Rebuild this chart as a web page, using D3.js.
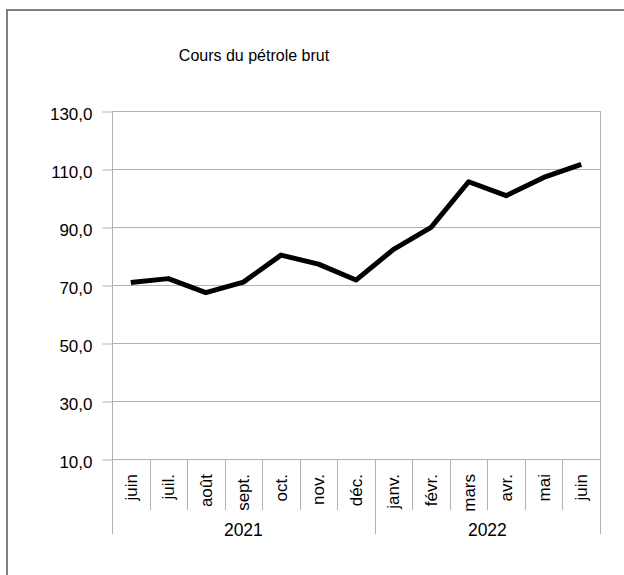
<!DOCTYPE html>
<html>
<head>
<meta charset="utf-8">
<script src="https://cdn.jsdelivr.net/npm/d3@7"></script>
<style>
  html, body { margin: 0; padding: 0; background: #fff; }
  svg { display: block; font-family: "Liberation Sans", Arial, sans-serif; }
</style>
</head>
<body>
<svg id="chart" width="624" height="575"></svg>
<script>
// ---- data ----
const title = "Cours du pétrole brut";
const months = ["juin", "juil.", "août", "sept.", "oct.", "nov.", "déc.",
                "janv.", "févr.", "mars", "avr.", "mai", "juin"];
const monthYears = ["2021", "2021", "2021", "2021", "2021", "2021", "2021",
                    "2022", "2022", "2022", "2022", "2022", "2022"];
const years = ["2021", "2022"];
const prices = [70.9, 72.2, 67.4, 71.0, 80.3, 77.2, 71.7, 82.3, 89.9, 105.6, 100.8, 107.1, 111.6];
const yTicks = [10, 30, 50, 70, 90, 110, 130];

(function () {
// ---- layout ----
const svg = d3.select("#chart");
const pLeft = 112, pRight = 600, pTop = 111, pBottom = 459;
const gridColor = "#b3b3b3";

const frLocale = d3.formatLocale({ decimal: ",", thousands: " ", grouping: [3], currency: ["", " €"] });
const fmt = frLocale.format(".1f");

const x = d3.scaleBand().domain(d3.range(months.length)).range([pLeft, pRight]).padding(0);
const y = d3.scaleLinear().domain([10, 130]).range([pBottom, pTop]);

// outer frame
svg.append("rect")
  .attr("x", 7).attr("y", 10).attr("width", 800).attr("height", 800)
  .attr("fill", "none").attr("stroke", "#7f7f7f").attr("stroke-width", 2);

// title
svg.append("text")
  .attr("x", 254).attr("y", 61)
  .attr("text-anchor", "middle")
  .attr("font-size", 16)
  .attr("fill", "#000")
  .text(title);

// horizontal grid lines
svg.append("g").selectAll("line").data(yTicks).join("line")
  .attr("x1", pLeft).attr("x2", pRight)
  .attr("y1", d => Math.round(y(d)) + 0.5).attr("y2", d => Math.round(y(d)) + 0.5)
  .attr("stroke", gridColor).attr("stroke-width", 1);

// y axis (ticks + labels)
const yAxis = d3.axisLeft(y).tickValues(yTicks).tickSize(10).tickPadding(10).tickFormat(fmt);
const gy = svg.append("g").attr("transform", `translate(${pLeft + 0.5},0.5)`).call(yAxis);
gy.select(".domain").remove();
gy.selectAll(".tick line").attr("stroke", gridColor);
gy.selectAll(".tick text")
  .attr("font-size", 17).attr("font-family", "Liberation Sans, Arial, sans-serif")
  .attr("fill", "#000").attr("dy", "0.45em");

// vertical plot borders (extend down into category table)
const yearBottom = 534, monthBottom = 510;
svg.append("line").attr("x1", pLeft + 0.5).attr("x2", pLeft + 0.5).attr("y1", pTop).attr("y2", yearBottom)
  .attr("stroke", gridColor);
svg.append("line").attr("x1", pRight + 0.5).attr("x2", pRight + 0.5).attr("y1", pTop).attr("y2", yearBottom)
  .attr("stroke", gridColor);

// month separators
const bounds = d3.range(1, months.length).map(i => x(i));
svg.append("g").selectAll("line").data(bounds).join("line")
  .attr("x1", d => Math.round(d) + 0.5).attr("x2", d => Math.round(d) + 0.5)
  .attr("y1", pBottom).attr("y2", monthBottom)
  .attr("stroke", gridColor);

// year separators
const yearSpans = years.map(yr => {
  const idx = monthYears.map((m, i) => m === yr ? i : -1).filter(i => i >= 0);
  return { year: yr, x0: x(d3.min(idx)), x1: x(d3.max(idx)) + x.bandwidth() };
});
svg.append("g").selectAll("line").data(yearSpans.slice(1)).join("line")
  .attr("x1", d => Math.round(d.x0) + 0.5).attr("x2", d => Math.round(d.x0) + 0.5)
  .attr("y1", pBottom).attr("y2", yearBottom)
  .attr("stroke", gridColor);

// month labels
svg.append("g").selectAll("text").data(months).join("text")
  .attr("transform", (d, i) => `translate(${x(i) + x.bandwidth() / 2},474) rotate(-90)`)
  .attr("text-anchor", "end")
  .attr("dy", "0.35em")
  .attr("font-size", 17)
  .attr("fill", "#000")
  .text(d => d);

// year labels
svg.append("g").selectAll("text").data(yearSpans).join("text")
  .attr("x", d => (d.x0 + d.x1) / 2)
  .attr("y", 536)
  .attr("text-anchor", "middle")
  .attr("font-size", 17.5)
  .attr("fill", "#000")
  .text(d => d.year);

// line
const line = d3.line().x((d, i) => x(i) + x.bandwidth() / 2).y(d => y(d));
svg.append("path")
  .datum(prices)
  .attr("d", line)
  .attr("fill", "none")
  .attr("stroke", "#000")
  .attr("stroke-width", 5)
  .attr("stroke-linejoin", "round");
})();
</script>
</body>
</html>
